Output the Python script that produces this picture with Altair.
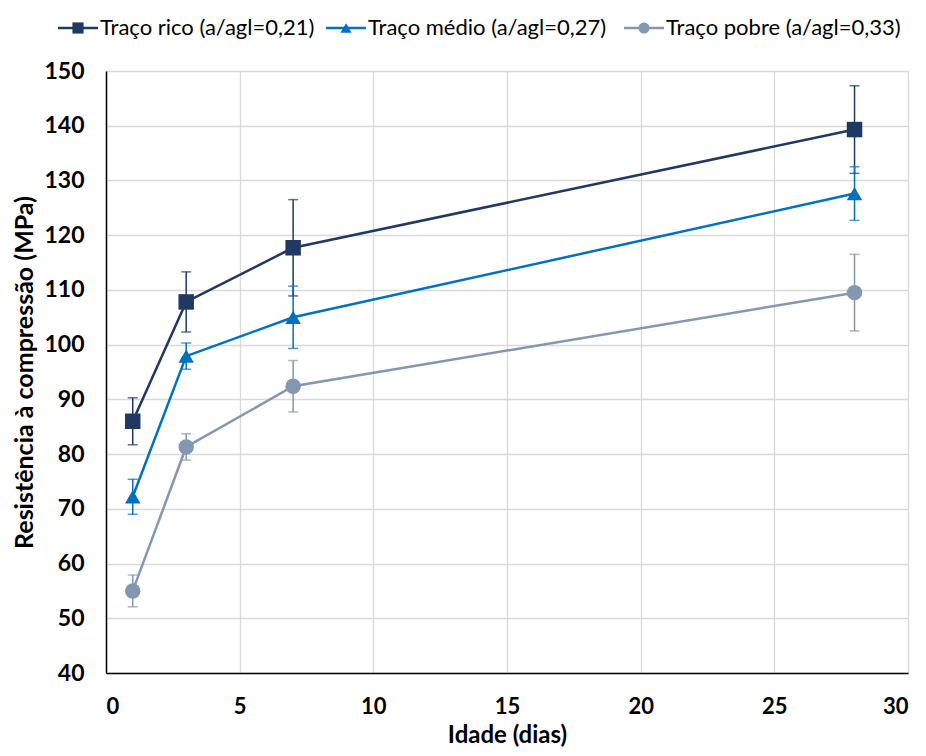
import altair as alt
import pandas as pd

days = [1, 3, 7, 28]
series = ["Traço rico (a/agl=0,21)", "Traço médio (a/agl=0,27)", "Traço pobre (a/agl=0,33)"]
rico = [86.0, 107.8, 117.7, 139.3]
rico_err = [4.3, 5.5, 8.8, 8.0]
medio = [72.2, 97.9, 105.0, 127.6]
medio_err = [3.2, 2.4, 5.7, 4.9]
pobre = [55.0, 81.3, 92.4, 109.5]
pobre_err = [2.9, 2.4, 4.7, 7.0]

colors = ["#203864", "#0070C0", "#8497B0"]
shapes = ["square", "triangle-up", "circle"]

rows = []
for s, vals, errs in zip(series, [rico, medio, pobre], [rico_err, medio_err, pobre_err]):
    for d, v, e in zip(days, vals, errs):
        rows.append({"serie": s, "dia": d, "valor": v, "lo": v - e, "hi": v + e})
df = pd.DataFrame(rows)

FONT = "Lato"
W, H = 802, 602
x_scale = alt.Scale(domain=[0, 30], nice=False)
y_scale = alt.Scale(domain=[40, 150], nice=False)
col = alt.Color("serie:N", scale=alt.Scale(domain=series, range=colors), legend=None)

xax = alt.X("dia:Q", scale=x_scale, title="Idade (dias)",
            axis=alt.Axis(values=list(range(0, 31, 5)), grid=True, gridColor="#D9D9D9", gridWidth=1.3,
                          domainColor="#000000", domainWidth=1.5, ticks=False,
                          labelFont=FONT, labelFontSize=22, labelFontWeight="bold", labelColor="#000",
                          labelPadding=23, titleFont=FONT, titleFontSize=24, titleFontWeight="bold",
                          titleColor="#000", titlePadding=6))
yax = alt.Y("valor:Q", scale=y_scale, title="Resistência à compressão (MPa)",
            axis=alt.Axis(values=list(range(40, 151, 10)), grid=True, gridColor="#D9D9D9", gridWidth=1.3,
                          domainColor="#000000", domainWidth=1.5, ticks=False,
                          labelFont=FONT, labelFontSize=23, labelFontWeight="bold", labelColor="#000",
                          labelPadding=22, titleFont=FONT, titleFontSize=25, titleFontWeight="bold",
                          titleColor="#000", titlePadding=6))

base = alt.Chart(df)
layers = []
# error bars
layers.append(base.mark_rule(strokeWidth=1.5).encode(
    x=alt.X("dia:Q", scale=x_scale), y=alt.Y("lo:Q", scale=y_scale), y2="hi:Q", color=col))
layers.append(base.mark_tick(thickness=1.5, size=10, orient="horizontal").encode(
    x=alt.X("dia:Q", scale=x_scale), y=alt.Y("lo:Q", scale=y_scale), color=col))
layers.append(base.mark_tick(thickness=1.5, size=10, orient="horizontal").encode(
    x=alt.X("dia:Q", scale=x_scale), y=alt.Y("hi:Q", scale=y_scale), color=col))
# lines
layers.append(base.mark_line(strokeWidth=2.5).encode(x=xax, y=yax, color=col, detail="serie:N"))
# markers
layers.append(base.mark_point(filled=True, size=240, opacity=1).encode(
    x=alt.X("dia:Q", scale=x_scale), y=alt.Y("valor:Q", scale=y_scale), color=col,
    shape=alt.Shape("serie:N", scale=alt.Scale(domain=series, range=shapes), legend=None)))

# manual legend (page coords -> plot coords)
ox, oy = 106, 71
leg_y = 28 - oy
leg_starts = [58, 326, 624]
for s, c, sh, x0 in zip(series, colors, shapes, leg_starts):
    x0p = x0 - ox
    layers.append(alt.Chart(pd.DataFrame({"k": [0]})).mark_rule(color=c, strokeWidth=2.5).encode(
        x=alt.value(x0p), x2=alt.value(x0p + 40), y=alt.value(leg_y)))
    layers.append(alt.Chart(pd.DataFrame({"k": [0]})).mark_point(
        color=c, filled=True, shape=sh, size=125, opacity=1).encode(
        x=alt.value(x0p + 20), y=alt.value(leg_y)))
    layers.append(alt.Chart(pd.DataFrame({"k": [0]})).mark_text(
        align="left", baseline="middle", font=FONT, fontSize=22, color="#000").encode(
        x=alt.value(x0p + 42), y=alt.value(leg_y), text=alt.value(s)))

chart = alt.layer(*layers).properties(
    width=W, height=H, autosize=alt.AutoSizeParams(type="none"),
    padding={"left": 98, "top": 63, "right": 10, "bottom": 75}
).configure_view(stroke=None).configure(background="#ffffff")

chart.save("out.html", embed_options={"renderer": "svg", "actions": False})
